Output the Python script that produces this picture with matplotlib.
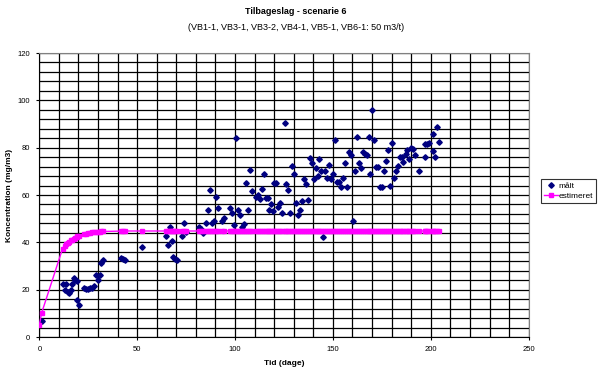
import matplotlib
matplotlib.use("Agg")
import matplotlib.pyplot as plt
from matplotlib.ticker import MultipleLocator

plt.rcParams['font.family'] = ['Liberation Sans', 'DejaVu Sans']

# measured concentration (mg/m3) vs time (days)
meas_days = [
    1.2,
    11.9, 13.1, 13.6, 14.5, 15.3, 16.0, 16.5, 17.5, 18.2, 19.0,
    19.5, 20.5, 22.7, 24.1, 24.9, 26.1, 27.1, 27.9, 28.8, 29.8,
    30.8, 31.6, 32.7,
    41.8, 43.0, 43.9, 52.6,
    64.5, 65.5, 66.6, 67.6, 68.5, 69.5, 70.5, 72.7, 73.7, 74.7,
    81.5, 82.5, 83.5, 85.4, 86.4, 87.4, 88.4, 89.4, 90.4, 91.4,
    93.5, 94.5, 97.6, 98.6, 99.6, 100.4, 101.4, 102.5, 103.5, 104.5,
    105.5, 106.5, 107.5, 108.5, 110.5, 111.5, 112.5, 113.6, 114.6, 115.6,
    116.6, 117.6, 118.6, 119.6, 120.1, 121.1, 122.1, 123.1, 124.1, 125.4,
    126.2, 127.2, 128.2, 129.3, 130.3, 131.3, 132.3, 133.3, 134.4, 135.4,
    136.4, 137.4, 138.4, 139.4, 140.4, 141.4, 142.4, 143.1, 143.9, 145.1,
    146.1, 147.1, 148.1, 149.1, 150.2, 151.2, 152.2, 153.2, 154.2, 155.2,
    156.2, 157.2, 158.4, 159.4, 160.4, 161.4, 162.4, 163.4, 164.4, 165.4,
    166.4, 167.5, 168.2, 169.0, 170.1, 171.1, 172.2, 173.2, 174.2, 175.2,
    176.2, 177.2, 178.3, 179.3, 180.3, 181.3, 182.3, 183.3, 184.4, 185.4,
    186.0, 187.1, 188.1, 189.1, 190.1, 191.1, 192.1, 194.2, 197.2, 197.2,
    198.2, 199.2, 201.3, 201.3, 202.3, 203.3, 204.3,
]
meas_conc = [
    6.8,
    22.6, 19.8, 22.3, 19.1, 18.7, 19.8, 22.6, 25.1, 24.0, 23.7,
    15.5, 13.6, 20.9, 20.4, 20.2, 20.7, 20.9, 21.5, 26.3, 24.0,
    26.0, 31.3, 32.5,
    33.2, 33.0, 32.5, 38.1,
    42.6, 38.8, 46.3, 40.4, 34.0, 33.0, 32.5, 42.5, 48.0, 44.4,
    46.3, 45.5, 44.1, 48.0, 53.5, 62.0, 48.3, 48.9, 59.0, 54.4,
    48.9, 50.5, 54.4, 52.5, 47.2, 84.0, 53.5, 51.4, 46.7, 47.6,
    64.9, 53.5, 70.4, 61.7, 59.3, 60.1, 58.5, 62.4, 68.7, 58.8,
    58.8, 53.5, 56.0, 53.1, 64.9, 64.9, 55.1, 56.8, 52.5, 90.3,
    64.5, 62.0, 52.5, 72.1, 68.7, 56.8, 51.4, 53.5, 57.4, 66.6,
    64.5, 57.7, 75.5, 73.4, 66.6, 71.3, 67.9, 75.1, 70.0, 42.1,
    70.0, 67.4, 72.5, 66.6, 68.7, 83.1, 65.3, 65.3, 63.6, 67.0,
    73.4, 63.2, 78.0, 76.8, 48.9, 70.0, 84.4, 73.4, 71.3, 78.0,
    77.5, 77.1, 84.4, 68.7, 95.8, 83.1, 71.7, 71.7, 63.2, 63.2,
    70.0, 74.2, 78.9, 64.0, 81.8, 67.0, 70.0, 72.1, 76.0, 76.0,
    73.8, 77.5, 78.9, 75.1, 79.7, 79.3, 76.8, 70.0, 81.4, 76.0,
    81.4, 81.8, 78.4, 85.7, 76.0, 88.7, 82.3,
]

# estimated concentration, evaluated at t=0 and at the measurement times
est_days = [0.0] + meas_days
est_conc = [
    5.0, 10.2,
    37.4, 38.6, 39.1, 39.8, 40.3, 40.8, 41.1, 41.6, 42.0, 42.3,
    42.5, 42.8, 43.4, 43.7, 43.9, 44.1, 44.2, 44.3, 44.4, 44.5,
    44.5, 44.6, 44.6,
    44.8, 44.8, 44.8, 44.8,
    44.8, 44.8, 44.8, 44.8, 44.8, 44.8, 44.8, 44.8, 44.8, 44.8,
    44.8, 44.8, 44.8, 44.8, 44.8, 44.8, 44.8, 44.8, 44.8, 44.8,
    44.8, 44.8, 44.8, 44.8, 44.8, 44.8, 44.8, 44.8, 44.8, 44.8,
    44.8, 44.8, 44.8, 44.8, 44.8, 44.8, 44.8, 44.8, 44.8, 44.8,
    44.8, 44.8, 44.8, 44.8, 44.8, 44.8, 44.8, 44.8, 44.8, 44.8,
    44.8, 44.8, 44.8, 44.8, 44.8, 44.8, 44.8, 44.8, 44.8, 44.8,
    44.8, 44.8, 44.8, 44.8, 44.8, 44.8, 44.8, 44.8, 44.8, 44.8,
    44.8, 44.8, 44.8, 44.8, 44.8, 44.8, 44.8, 44.8, 44.8, 44.8,
    44.8, 44.8, 44.8, 44.8, 44.8, 44.8, 44.8, 44.8, 44.8, 44.8,
    44.8, 44.8, 44.8, 44.8, 44.8, 44.8, 44.8, 44.8, 44.8, 44.8,
    44.8, 44.8, 44.8, 44.8, 44.8, 44.8, 44.8, 44.8, 44.8, 44.8,
    44.8, 44.8, 44.8, 44.8, 44.8, 44.8, 44.8, 44.8, 44.8, 44.8,
    44.8, 44.8, 44.8, 44.8, 44.8, 44.8, 44.8,
]

fig = plt.figure(figsize=(6.03, 3.72), dpi=100)
ax = fig.add_axes([0.0652, 0.094, 0.8115, 0.7635])

ax.plot(meas_days, meas_conc, linestyle='none', marker='D', markersize=2.8,
        color='#000080', label='målt', zorder=3)
ax.plot(est_days, est_conc, color='#FF00FF', linewidth=1, marker='s',
        markersize=3.2, label='estimeret', zorder=4)

ax.set_xlim(0, 250)
ax.set_ylim(0, 120)
ax.xaxis.set_major_locator(MultipleLocator(50))
ax.xaxis.set_minor_locator(MultipleLocator(10))
ax.yaxis.set_major_locator(MultipleLocator(20))
ax.yaxis.set_minor_locator(MultipleLocator(4))
ax.grid(True, which='both', color='black', linewidth=0.9)
ax.set_axisbelow(True)
ax.tick_params(which='major', length=2.5, width=0.8, labelsize=5.5, pad=4)
ax.tick_params(which='minor', length=0)

for side in ['left', 'bottom']:
    ax.spines[side].set_color('black')
for side in ['top', 'right']:
    ax.spines[side].set_color('#808080')

ax.set_xlabel('Tid (dage)', fontsize=6, fontweight='bold', labelpad=5)
ax.set_ylabel('Koncentration (mg/m3)', fontsize=6, fontweight='bold', labelpad=3)

fig.text(0.491, 0.968, 'Tilbageslag - scenarie 6', ha='center', va='center',
         fontsize=6.5, fontweight='bold')
fig.text(0.491, 0.927, '(VB1-1, VB3-1, VB3-2, VB4-1, VB5-1, VB6-1: 50 m3/t)',
         ha='center', va='center', fontsize=6.5)

leg = fig.legend(loc='lower left', bbox_to_anchor=(0.897, 0.454), fontsize=6,
                 frameon=True, fancybox=False, edgecolor='black',
                 borderpad=0.35, handlelength=1.7, handletextpad=0.1,
                 labelspacing=0.3, borderaxespad=0)
leg.get_frame().set_linewidth(0.8)

fig.savefig('out.png', dpi=100)
